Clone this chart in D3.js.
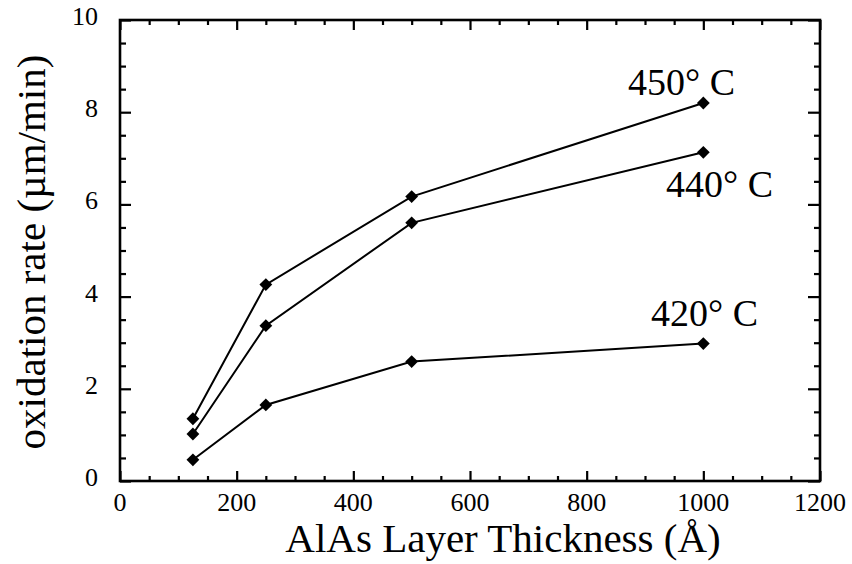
<!DOCTYPE html>
<html>
<head>
<meta charset="utf-8">
<script src="https://cdn.jsdelivr.net/npm/d3@7"></script>
<style>
  html, body { margin: 0; padding: 0; background: #fff; }
  svg { display: block; }
  text { font-family: "Liberation Serif", "DejaVu Serif", serif; fill: #000; }
</style>
</head>
<body>
<svg id="chart" width="852" height="564"></svg>
<script>
// ---- data ----
const thickness = [125, 250, 500, 1000];
const rate450 = [1.35, 4.26, 6.17, 8.2];
const rate440 = [1.02, 3.37, 5.6, 7.13];
const rate420 = [0.46, 1.65, 2.59, 2.98];
const seriesNames = ["450° C", "440° C", "420° C"];
const xTickLabels = [0, 200, 400, 600, 800, 1000, 1200];
const yTickLabels = [0, 2, 4, 6, 8, 10];
const xTitle = "AlAs Layer Thickness (Å)";
const yTitle = "oxidation rate (µm/min)";

const series = [
  { name: seriesNames[0], values: rate450, label: { x: 628, y: 95 } },
  { name: seriesNames[1], values: rate440, label: { x: 666, y: 197 } },
  { name: seriesNames[2], values: rate420, label: { x: 651, y: 326 } }
];

const svg = d3.select("#chart");
const pLeft = 120, pRight = 820, pTop = 20, pBottom = 481;

const x = d3.scaleLinear().domain([0, 1200]).range([pLeft, pRight]);
const y = d3.scaleLinear().domain([0, 10]).range([pBottom, pTop]);

const minorX = d3.range(0, 1201, 50).filter(v => v % 200 !== 0);
const minorY = d3.range(0, 10.01, 0.5).filter(v => v % 2 !== 0);

function styleAxis(g) {
  g.select(".domain").remove();
  g.selectAll("line").attr("stroke", "#000").attr("stroke-width", 2.2);
}

// Bottom axis: labels + inward ticks
const gBottom = svg.append("g").attr("transform", `translate(0,${pBottom})`);
gBottom.call(d3.axisTop(x).tickValues(xTickLabels).tickSize(10).tickFormat(""));
gBottom.call(styleAxis);
const gBottomMinor = svg.append("g").attr("transform", `translate(0,${pBottom})`);
gBottomMinor.call(d3.axisTop(x).tickValues(minorX).tickSize(5).tickFormat(""));
gBottomMinor.call(styleAxis);

svg.append("g").selectAll("text").data(xTickLabels).join("text")
  .attr("x", d => x(d)).attr("y", 511)
  .attr("text-anchor", "middle").attr("font-size", 26)
  .text(d => d);

// Top axis
const gTop = svg.append("g").attr("transform", `translate(0,${pTop})`);
gTop.call(d3.axisBottom(x).tickValues(xTickLabels).tickSize(10).tickFormat(""));
gTop.call(styleAxis);
const gTopMinor = svg.append("g").attr("transform", `translate(0,${pTop})`);
gTopMinor.call(d3.axisBottom(x).tickValues(minorX).tickSize(5).tickFormat(""));
gTopMinor.call(styleAxis);

// Left axis
const gLeft = svg.append("g").attr("transform", `translate(${pLeft},0)`);
gLeft.call(d3.axisRight(y).tickValues(yTickLabels).tickSize(11).tickFormat(""));
gLeft.call(styleAxis);
const gLeftMinor = svg.append("g").attr("transform", `translate(${pLeft},0)`);
gLeftMinor.call(d3.axisRight(y).tickValues(minorY).tickSize(6).tickFormat(""));
gLeftMinor.call(styleAxis);

svg.append("g").selectAll("text").data(yTickLabels).join("text")
  .attr("x", 98).attr("y", d => y(d) + 5)
  .attr("text-anchor", "end").attr("font-size", 26)
  .text(d => d);

// Right axis
const gRight = svg.append("g").attr("transform", `translate(${pRight},0)`);
gRight.call(d3.axisLeft(y).tickValues(yTickLabels).tickSize(12).tickFormat(""));
gRight.call(styleAxis);
const gRightMinor = svg.append("g").attr("transform", `translate(${pRight},0)`);
gRightMinor.call(d3.axisLeft(y).tickValues(minorY).tickSize(6).tickFormat(""));
gRightMinor.call(styleAxis);

// Frame
svg.append("rect")
  .attr("x", pLeft).attr("y", pTop)
  .attr("width", pRight - pLeft).attr("height", pBottom - pTop)
  .attr("fill", "none").attr("stroke", "#000").attr("stroke-width", 2.6);

// Lines and markers
const line = d3.line().x((d, i) => x(thickness[i])).y(d => y(d));
const diamond = d3.symbol().type(d3.symbolSquare).size(82);

series.forEach(s => {
  svg.append("path")
    .datum(s.values)
    .attr("d", line)
    .attr("fill", "none")
    .attr("stroke", "#000")
    .attr("stroke-width", 2);
  svg.append("g").selectAll("path").data(s.values).join("path")
    .attr("d", diamond)
    .attr("transform", (d, i) => `translate(${x(thickness[i])},${y(d)}) rotate(45)`)
    .attr("fill", "#000");
  svg.append("text")
    .attr("x", s.label.x).attr("y", s.label.y)
    .attr("font-size", 38)
    .text(s.name);
});

// Axis titles
svg.append("text")
  .attr("x", 503).attr("y", 552)
  .attr("text-anchor", "middle").attr("font-size", 41)
  .text(xTitle);

svg.append("text")
  .attr("transform", "translate(45,252) rotate(-90)")
  .attr("text-anchor", "middle").attr("font-size", 41)
  .text(yTitle);
</script>
</body>
</html>
